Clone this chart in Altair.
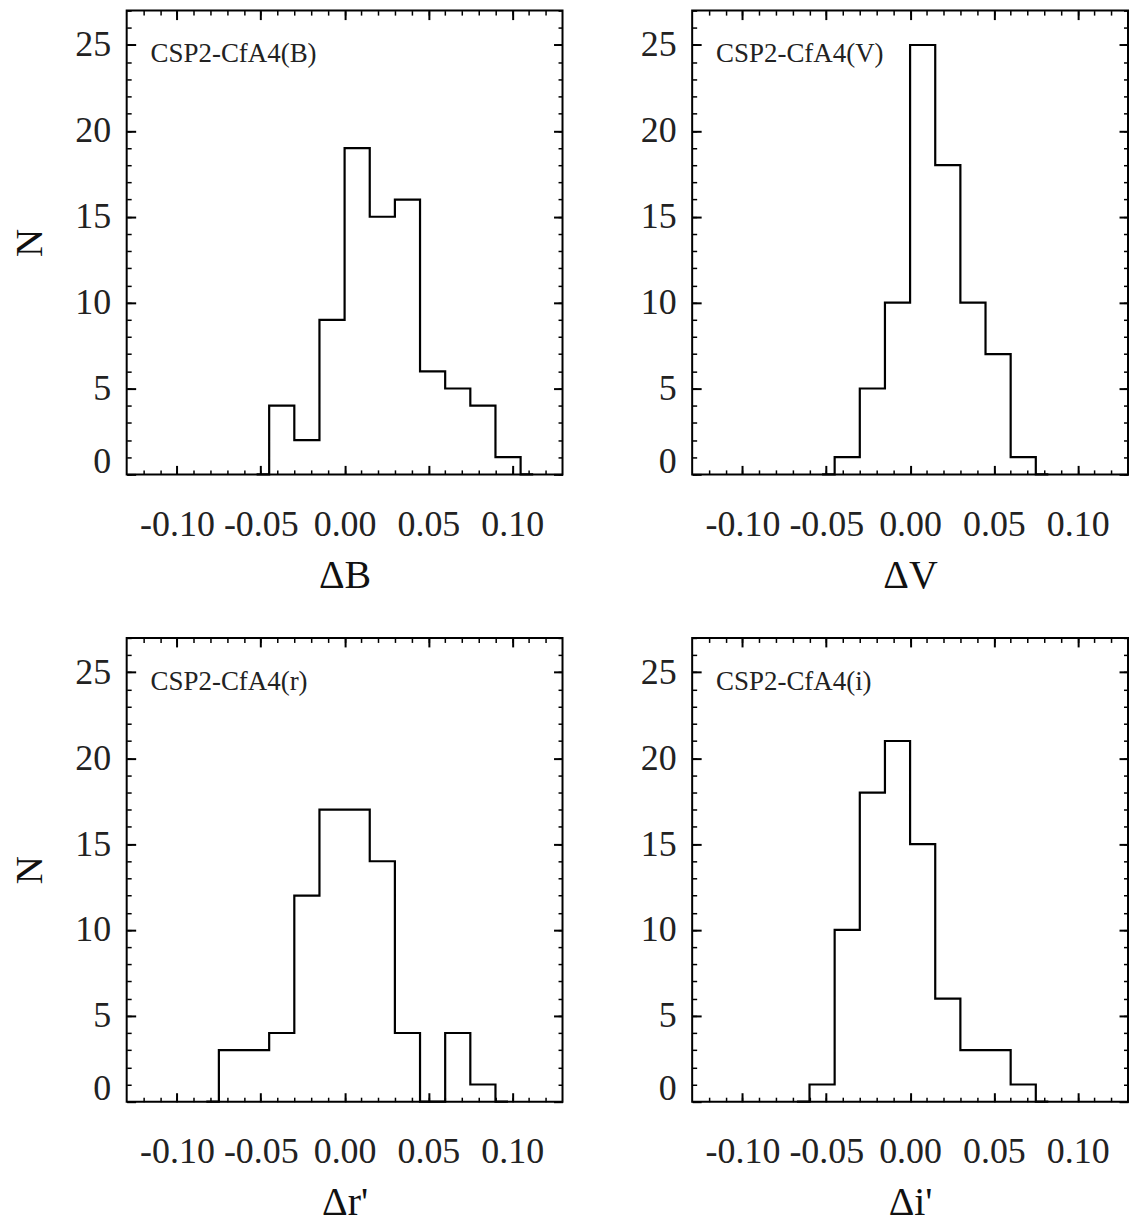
import altair as alt
import pandas as pd

# ---- data (bin counts, bin width 0.015) ----
bin_width = 0.015

b_start = -0.060
b_counts = [0, 4, 2, 9, 19, 15, 16, 6, 5, 4, 1, 0]

v_start = -0.060
v_counts = [0, 1, 5, 10, 25, 18, 10, 7, 1, 0]

r_start = -0.090
r_counts = [0, 3, 3, 4, 12, 17, 17, 14, 4, 0, 4, 1, 0]

i_start = -0.075
i_counts = [0, 1, 10, 18, 21, 15, 6, 3, 3, 1, 0]

panel_labels = ["CSP2-CfA4(B)", "CSP2-CfA4(V)", "CSP2-CfA4(r)", "CSP2-CfA4(i)"]
x_titles = ["ΔB", "ΔV", "Δr'", "Δi'"]

x_major = [-0.10, -0.05, 0.00, 0.05, 0.10]
y_major = [0, 5, 10, 15, 20, 25]
x_minor = [round(-0.12 + 0.01 * k, 2) for k in range(25)]
y_minor = list(range(0, 28))

FONT = "Liberation Serif"
W, H = 437, 465


def tick_axis(orient, values, size, width, offset):
    # inward-pointing ticks: an axis shifted into the plot by `offset`
    return alt.Axis(orient=orient, values=values, labels=False, domain=False,
                    grid=False, ticks=True, tickSize=size, offset=offset,
                    minExtent=0, maxExtent=0,
                    tickColor="black", tickWidth=width, title=None)


def panel(label, xtitle, start, counts, show_n):
    df = pd.DataFrame({
        "x": [start + (k + 0.5) * bin_width for k in range(len(counts))],
        "n": counts,
    })
    xs = alt.Scale(domain=[-0.13, 0.13], nice=False, zero=False)
    ys = alt.Scale(domain=[0, 27], nice=False, zero=False)
    base = alt.Chart(df)

    main = base.mark_line(interpolate="step", color="black", strokeWidth=2.2).encode(
        x=alt.X("x:Q", scale=xs, axis=alt.Axis(
            orient="bottom", values=x_major,
            labelExpr="replace(format(datum.value, '.2f'), '\u2212', '-')",
            ticks=False, tickSize=0, domain=False, grid=False,
            labelFont=FONT, labelFontSize=36, labelColor="#222",
            labelPadding=33, labelFlush=False,
            title=xtitle, titleFont=FONT, titleFontSize=40,
            titleFontWeight="normal", titleColor="#111", titlePadding=13)),
        y=alt.Y("n:Q", scale=ys, axis=alt.Axis(
            orient="left", values=y_major, format="d",
            ticks=False, tickSize=0, domain=False, grid=False,
            labelFont=FONT, labelFontSize=36, labelColor="#222",
            labelPadding=16, labelFlush=True, labelFlushOffset=6,
            title="N" if show_n else None, titleFont=FONT, titleFontSize=39,
            titleFontWeight="normal", titleColor="#111", titlePadding=25)),
    )

    def ghost(xax, yax):
        return base.mark_line(strokeOpacity=0).encode(
            x=alt.X("x:Q", scale=xs, axis=xax),
            y=alt.Y("n:Q", scale=ys, axis=yax),
        )

    # bottom / left ticks (pointing inward)
    l1 = ghost(tick_axis("bottom", x_major, 9, 2, -9), tick_axis("left", y_major, 9, 2, -9))
    l2 = ghost(tick_axis("bottom", x_minor, 4.5, 1.5, -4.5), tick_axis("left", y_minor, 4.5, 1.5, -4.5))
    # mirrored top / right ticks: bottom/left axes moved to the opposite edge
    l3 = ghost(tick_axis("bottom", x_major, 9, 2, -H), tick_axis("left", y_major, 9, 2, -W))
    l4 = ghost(tick_axis("bottom", x_minor, 4.5, 1.5, -H), tick_axis("left", y_minor, 4.5, 1.5, -W))

    txt = alt.Chart(pd.DataFrame({"t": [label]})).mark_text(
        align="left", baseline="middle", font=FONT, fontSize=27, color="#222"
    ).encode(text="t:N", x=alt.value(24), y=alt.value(44))

    return alt.layer(main, l1, l2, l3, l4, txt).resolve_axis(
        x="independent", y="independent"
    ).properties(width=W, height=H)


pB = panel(panel_labels[0], x_titles[0], b_start, b_counts, True)
pV = panel(panel_labels[1], x_titles[1], v_start, v_counts, False)
pr = panel(panel_labels[2], x_titles[2], r_start, r_counts, True)
pi = panel(panel_labels[3], x_titles[3], i_start, i_counts, False)

chart = alt.vconcat(
    alt.hconcat(pB, pV, spacing=75),
    alt.hconcat(pr, pi, spacing=75),
    spacing=40,
).properties(
    padding={"left": 2, "top": -1, "right": -1, "bottom": 0}
).configure_view(stroke="black", strokeWidth=2)

chart.save("out.html", embed_options={"renderer": "svg", "actions": False})
